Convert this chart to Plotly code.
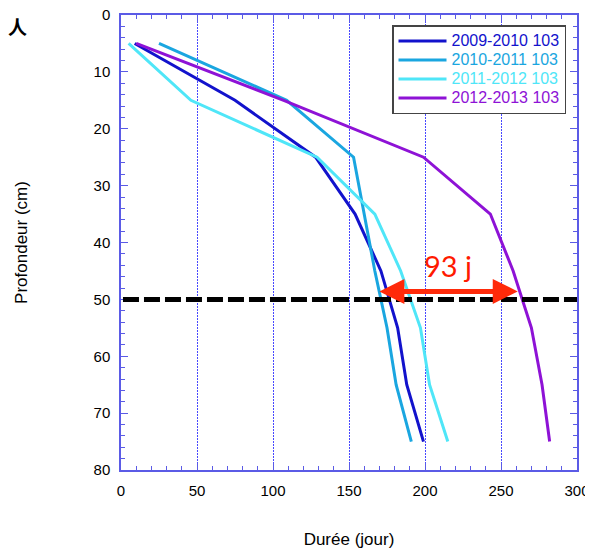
import plotly.graph_objects as go

depths = [5, 15, 25, 35, 45, 55, 65, 75]
s2009 = [9, 75, 128, 154, 171, 182, 188, 199]
s2010 = [25, 109, 153, 160, 167, 175, 181, 191]
s2011 = [5, 46, 129, 167, 184, 197, 203, 215]
s2012 = [10, 107, 199, 243, 258, 270, 277, 282]

names = ["2009-2010 103", "2010-2011 103", "2011-2012 103", "2012-2013 103"]
series = [s2009, s2010, s2011, s2012]
colors = ["#1212CC", "#1AA6E0", "#4FE6F8", "#8E12D6"]

ref_depth = 50
arrow_depth = 48.6
arrow_from = 169
arrow_to = 261
label_text = "93 j"

# page offset (browser body margin) compensation
OFF = 8
W, H = 593 - OFF, 553 - OFF
L, T = 121 - OFF, 15 - OFF
PW, PH = 456, 455
R, B = W - L - PW, H - T - PH

fig = go.Figure()
for nm, vals, c in zip(names, series, colors):
    fig.add_trace(go.Scatter(
        x=vals, y=depths, mode="lines", line=dict(color=c, width=3),
        name=f"<span style='color:{c};font-size:16px'>{nm}</span>"))

fig.add_shape(type="line", xref="x", yref="y", x0=1.3, x1=300, y0=ref_depth, y1=ref_depth,
              line=dict(color="black", width=5, dash="16px,5px"))

fig.add_annotation(x=arrow_to, y=arrow_depth, ax=arrow_from, ay=arrow_depth,
                   xref="x", yref="y", axref="x", ayref="y", text="",
                   showarrow=True, arrowside="end+start", arrowhead=2,
                   arrowsize=1.0, arrowwidth=5, arrowcolor="#FF2A0A")
fig.add_annotation(x=215, y=44, xref="x", yref="y", text=label_text, showarrow=False,
                   font=dict(family="Lato", size=29, color="#FF1A00"))
fig.add_annotation(x=(OFF - 2 - 121) / PW, y=(470 - 26) / PH, xref="paper", yref="paper",
                   xanchor="left", yanchor="middle",
                   text="<b>人</b>", showarrow=False,
                   font=dict(family="Noto Sans CJK SC", size=19, color="black"))

axcol = "#5B5BE6"
fig.update_xaxes(range=[0, 300], dtick=50, ticks="inside", ticklen=7, tickcolor=axcol,
                 showline=True, linecolor=axcol, linewidth=1.5, mirror="allticks",
                 showgrid=True, gridcolor="#4848FF", gridwidth=1, griddash="2px,1px",
                 zeroline=False, ticklabelstandoff=6, automargin=False,
                 ticklabeloverflow="allow",
                 minor=dict(dtick=10, ticks="inside", ticklen=4, tickcolor=axcol, showgrid=False),
                 tickfont=dict(family="Liberation Sans", size=15, color="black"),
                 title=dict(text="Durée (jour)", standoff=35,
                            font=dict(family="Liberation Sans", size=17, color="black")))
fig.update_yaxes(range=[80, 0], dtick=10, ticks="inside", ticklen=7, tickcolor=axcol,
                 showline=True, linecolor=axcol, linewidth=1.5, mirror="allticks",
                 showgrid=False, zeroline=False, ticklabelstandoff=6, automargin=False,
                 ticklabeloverflow="allow",
                 minor=dict(dtick=2, ticks="inside", ticklen=4, tickcolor=axcol, showgrid=False),
                 tickfont=dict(family="Liberation Sans", size=15, color="black"),
                 title=dict(text="Profondeur (cm)", standoff=62,
                            font=dict(family="Liberation Sans", size=17, color="black")))

fig.update_layout(
    width=W, height=H, margin=dict(l=L, r=R, t=T, b=B, autoexpand=False),
    paper_bgcolor="white", plot_bgcolor="white", showlegend=True,
    legend=dict(x=(566 - 121) / PW, y=(470 - 25) / PH, xanchor="right", yanchor="top",
                bgcolor="white", bordercolor="#444444", borderwidth=1.5,
                font=dict(family="Liberation Sans", size=12), tracegroupgap=0,
                itemwidth=48),
)

fig.write_html("out.html")
